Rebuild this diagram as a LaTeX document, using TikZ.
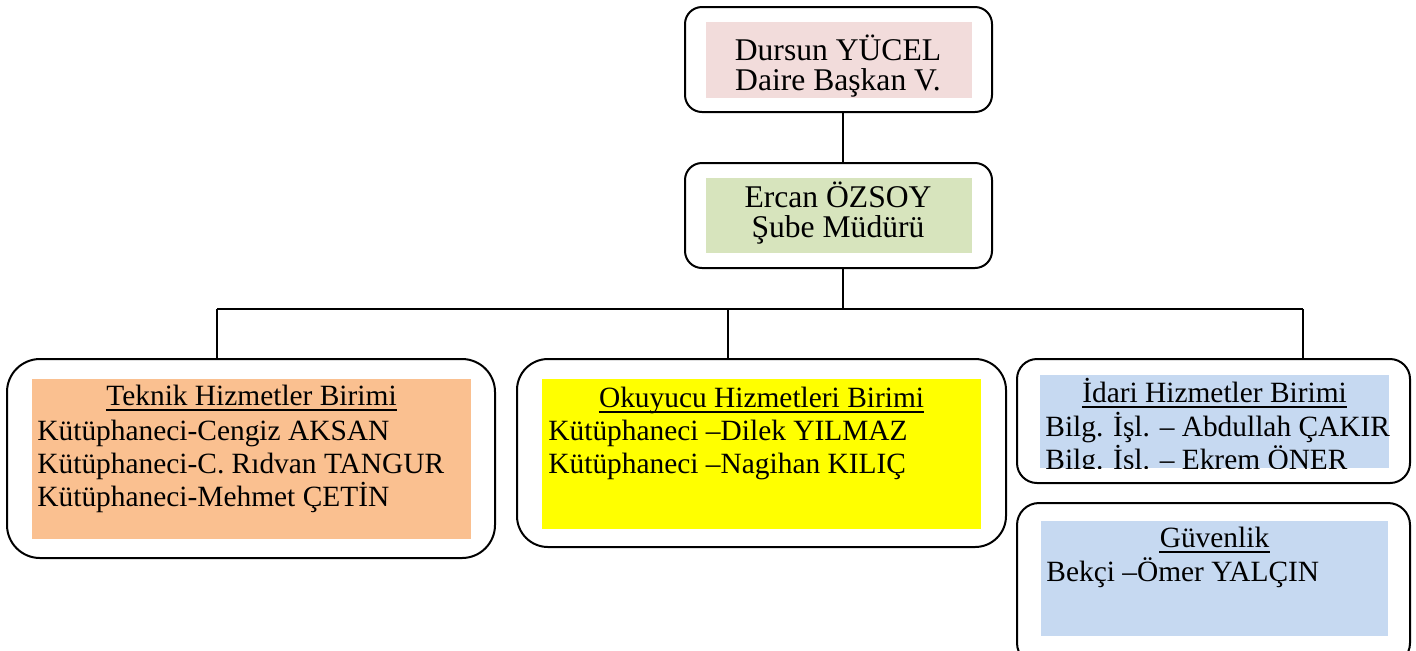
\documentclass[tikz,border=0pt]{standalone}
\usepackage{fontspec}
\setmainfont{Liberation Serif}
\usetikzlibrary{positioning}

\definecolor{pembe}{HTML}{F2DCDB}
\definecolor{yesil}{HTML}{D7E4BD}
\definecolor{turuncu}{HTML}{FAC090}
\definecolor{sari}{HTML}{FFFF00}
\definecolor{mavi}{HTML}{C6D9F1}

\tikzset{
  kutu/.style={draw, line width=1pt, rounded corners=#1, inner sep=0pt},
  zemin/.style={fill=#1, inner sep=0pt},
  yazi/.style={inner sep=0pt, font=\fontsize{14.7}{16.5}\selectfont},
  ustyazi/.style={inner sep=0pt, anchor=base, font=\fontsize{15.8}{17.5}\selectfont},
  baslik/.style={yazi, anchor=base},
  satir/.style={yazi, anchor=base west},
  baglanti/.style={line width=0.8pt},
  altcizgi/.style={line width=0.7pt}
}

\begin{document}
\begin{tikzpicture}[x=0.5pt,y=-0.5pt]
    \path[use as bounding box, clip] (0,0) rectangle (1416,650);

    % ust kutular
    \node[kutu=8.5pt, minimum width=153.5pt, minimum height=52.5pt] (daire) at (838.5,59.5) {};
    \node[zemin=pembe, minimum width=133pt, minimum height=38pt] (dairezemin) at (839,60) {};
    \node[ustyazi] (daire1) at (838,60) {Dursun YÜCEL};
    \node[ustyazi] (daire2) at (838,90) {Daire Başkan V.};

    \node[kutu=8.5pt, minimum width=153.5pt, minimum height=52.5pt] (mudur) at (838.5,215.5) {};
    \node[zemin=yesil, minimum width=133pt, minimum height=37.5pt] (mudurzemin) at (839,215.5) {};
    \node[ustyazi] (mudur1) at (838,207) {Ercan ÖZSOY};
    \node[ustyazi] (mudur2) at (838,237) {Şube Müdürü};

    % birimler
    \node[kutu=16.5pt, minimum width=244pt, minimum height=99.5pt] (teknik) at (251,458.5) {};
    \node[zemin=turuncu, minimum width=219.5pt, minimum height=80pt] (teknikzemin) at (251.5,459) {};
    \node[baslik] (teknikbaslik) at (251.5,405) {Teknik Hizmetler Birimi};
    \node[satir] (teknik1) at (37,440) {Kütüphaneci-Cengiz AKSAN};
    \node[satir] (teknik2) at (37,473) {Kütüphaneci-C. Rıdvan TANGUR};
    \node[satir] (teknik3) at (37,506) {Kütüphaneci-Mehmet ÇETİN};

    \node[kutu=15.5pt, minimum width=244.5pt, minimum height=94pt] (okuyucu) at (761.5,453) {};
    \node[zemin=sari, minimum width=219.5pt, minimum height=75pt] (okuyucuzemin) at (761.5,454) {};
    \node[baslik] (okuyucubaslik) at (761.5,407) {Okuyucu Hizmetleri Birimi};
    \node[satir] (okuyucu1) at (548,440) {Kütüphaneci –Dilek YILMAZ};
    \node[satir] (okuyucu2) at (548,473) {Kütüphaneci –Nagihan KILIÇ};

    \node[kutu=10pt, minimum width=196.5pt, minimum height=62pt] (idari) at (1213.5,421) {};
    \node[zemin=mavi, minimum width=174.5pt, minimum height=46.5pt] (idarizemin) at (1214.5,421.5) {};
    \node[baslik] (idaribaslik) at (1214.5,402) {İdari Hizmetler Birimi};
    \node[satir] (idari1) at (1045,436) {Bilg. İşl. – Abdullah ÇAKIR};
    \begin{scope}
        \clip (idarizemin.south west) rectangle (idarizemin.north east);
        \node[satir] (idari2) at (1045,469) {Bilg. İşl. – Ekrem ÖNER};
    \end{scope}

    \node[kutu=11pt, minimum width=196.5pt, minimum height=81pt] (guvenlik) at (1213.5,584) {};
    \node[zemin=mavi, minimum width=173.5pt, minimum height=57.5pt] (guvenlikzemin) at (1214.5,578.5) {};
    \node[baslik] (guvenlikbaslik) at (1214.5,547) {Güvenlik};
    \node[satir] (guvenlik1) at (1046,581) {Bekçi –Ömer YALÇIN};

    % basliklarin alt cizgileri
    \draw[altcizgi] ([yshift=-2.5pt]teknikbaslik.base west) -- ([yshift=-2.5pt]teknikbaslik.base east);
    \draw[altcizgi] ([yshift=-2.5pt]okuyucubaslik.base west) -- ([yshift=-2.5pt]okuyucubaslik.base east);
    \draw[altcizgi] ([yshift=-2.5pt]idaribaslik.base west) -- ([yshift=-2.5pt]idaribaslik.base east);
    \draw[altcizgi] ([yshift=-2.5pt]guvenlikbaslik.base west) -- ([yshift=-2.5pt]guvenlikbaslik.base east);

    % baglantilar
    \coordinate (ana) at (843,309);
    \coordinate (solkol) at (217,309);
    \coordinate (ortakol) at (728,309);
    \coordinate (sagkol) at (1303,309);
    \draw[baglanti] (daire.south -| ana) -- (mudur.north -| ana);
    \draw[baglanti] (mudur.south -| ana) -- (ana);
    \draw[baglanti] (solkol) -- (sagkol);
    \draw[baglanti] (solkol) -- (solkol |- teknik.north);
    \draw[baglanti] (ortakol) -- (ortakol |- okuyucu.north);
    \draw[baglanti] (sagkol) -- (sagkol |- idari.north);
\end{tikzpicture}
\end{document}
